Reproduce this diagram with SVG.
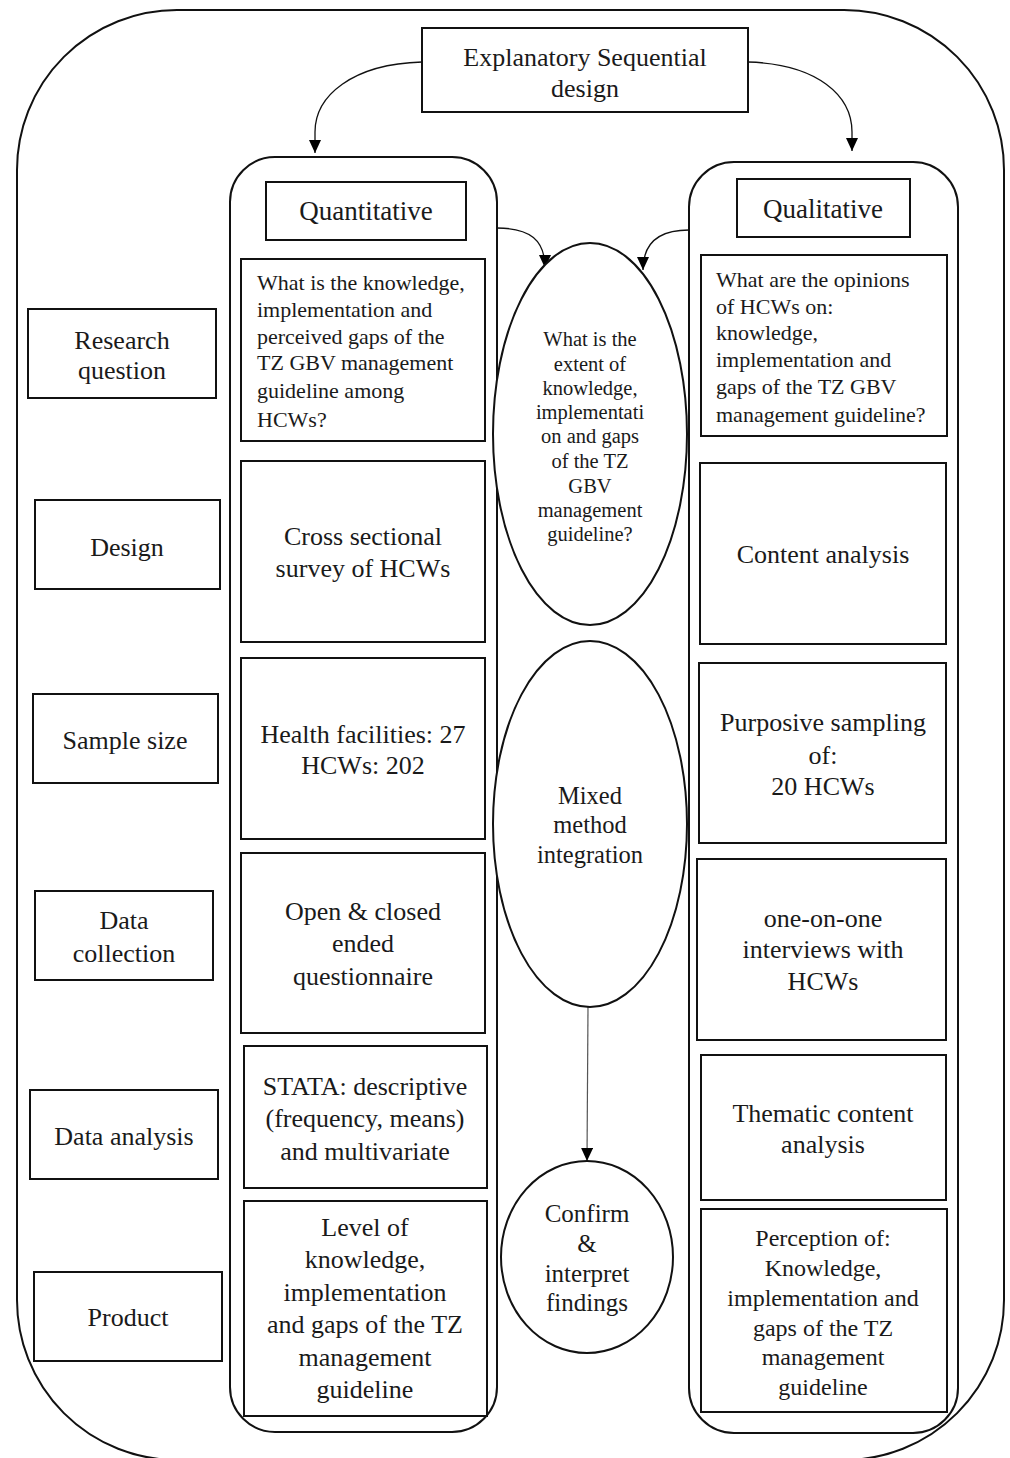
<svg xmlns="http://www.w3.org/2000/svg" width="1010" height="1458" viewBox="0 0 1010 1458">
<defs>
<marker id="arr" markerUnits="userSpaceOnUse" markerWidth="14" markerHeight="12" refX="13" refY="6" orient="auto">
<path d="M0,0 L13,6 L0,12 z" fill="#000"/>
</marker>
<style>
.box{fill:#fff;stroke:#111;stroke-width:2}
.frame{fill:none;stroke:#111;stroke-width:2}
.ell{fill:#fff;stroke:#111;stroke-width:2}
.conn{fill:none;stroke:#111;stroke-width:1.3}
.thin{fill:none;stroke:#555;stroke-width:1.2}
text{font-family:"Liberation Serif","Times New Roman",serif;fill:#1a1a1a}
.c{text-anchor:middle;font-size:26px}
.q{font-size:22px}
.e{text-anchor:middle;font-size:20.5px}
</style>
</defs>
<rect fill="#fff" x="0" y="0" width="1010" height="1458"/>
<g id="outer"><rect class="frame" x="17" y="10" width="987" height="1450" rx="160" ry="160"/></g>
<g id="quant-column"><rect class="frame" x="230" y="157" width="267" height="1275" rx="45" ry="45"/></g>
<g id="qual-column"><rect class="frame" x="689" y="162" width="269" height="1271" rx="45" ry="45"/></g>

<g id="top">
<rect class="box" x="422" y="28" width="326" height="84"/>
<text class="c" x="585" y="66">Explanatory Sequential</text>
<text class="c" x="585" y="97">design</text>
</g>

<g id="connectors">
<path class="conn" d="M422,62 C352,64 315,96 315,132 L315,153" marker-end="url(#arr)"/>
<path class="conn" d="M748,62 C818,64 852,96 852,132 L852,151" marker-end="url(#arr)"/>
<path class="conn" d="M497,228 C530,228 545,240 545,268" marker-end="url(#arr)"/>
<path class="conn" d="M689,230 C660,230 643,242 643,270" marker-end="url(#arr)"/>
<path class="thin" d="M588,1007 L587,1161" marker-end="url(#arr)"/>
</g>

<g id="quant-header">
<rect class="box" x="266" y="182" width="200" height="58"/>
<text class="c" x="366" y="220" style="font-size:27px">Quantitative</text>
</g>
<g id="qual-header">
<rect class="box" x="737" y="179" width="173" height="58"/>
<text class="c" x="823" y="218" style="font-size:27px">Qualitative</text>
</g>

<g id="label-research-question">
<rect class="box" x="28" y="309" width="188" height="89"/>
<text class="c" x="122" y="349">Research</text>
<text class="c" x="122" y="379">question</text>
</g>
<g id="label-design">
<rect class="box" x="35" y="500" width="185" height="89"/>
<text class="c" x="127" y="556">Design</text>
</g>
<g id="label-sample-size">
<rect class="box" x="33" y="694" width="185" height="89"/>
<text class="c" x="125" y="749">Sample size</text>
</g>
<g id="label-data-collection">
<rect class="box" x="35" y="891" width="178" height="89"/>
<text class="c" x="124" y="929">Data</text>
<text class="c" x="124" y="962">collection</text>
</g>
<g id="label-data-analysis">
<rect class="box" x="30" y="1090" width="188" height="89"/>
<text class="c" x="124" y="1145">Data analysis</text>
</g>
<g id="label-product">
<rect class="box" x="34" y="1272" width="188" height="89"/>
<text class="c" x="128" y="1326">Product</text>
</g>

<g id="quant-rq">
<rect class="box" x="241" y="259" width="244" height="182"/>
<text class="q" x="257" y="290">What is the knowledge,</text>
<text class="q" x="257" y="317">implementation and</text>
<text class="q" x="257" y="344">perceived gaps of the</text>
<text class="q" x="257" y="370">TZ GBV management</text>
<text class="q" x="257" y="398">guideline among</text>
<text class="q" x="257" y="427">HCWs?</text>
</g>
<g id="quant-design">
<rect class="box" x="241" y="461" width="244" height="181"/>
<text class="c" x="363" y="545">Cross sectional</text>
<text class="c" x="363" y="577">survey of HCWs</text>
</g>
<g id="quant-sample">
<rect class="box" x="241" y="658" width="244" height="181"/>
<text class="c" x="363" y="743">Health facilities: 27</text>
<text class="c" x="363" y="774">HCWs: 202</text>
</g>
<g id="quant-collection">
<rect class="box" x="241" y="853" width="244" height="180"/>
<text class="c" x="363" y="920">Open &amp; closed</text>
<text class="c" x="363" y="952">ended</text>
<text class="c" x="363" y="985">questionnaire</text>
</g>
<g id="quant-analysis">
<rect class="box" x="244" y="1046" width="243" height="142"/>
<text class="c" x="365" y="1095">STATA: descriptive</text>
<text class="c" x="365" y="1127">(frequency, means)</text>
<text class="c" x="365" y="1160">and multivariate</text>
</g>
<g id="quant-product">
<rect class="box" x="244" y="1201" width="243" height="215"/>
<text class="c" x="365" y="1236">Level of</text>
<text class="c" x="365" y="1268">knowledge,</text>
<text class="c" x="365" y="1301">implementation</text>
<text class="c" x="365" y="1333">and gaps of the TZ</text>
<text class="c" x="365" y="1366">management</text>
<text class="c" x="365" y="1398">guideline</text>
</g>

<g id="qual-rq">
<rect class="box" x="701" y="255" width="246" height="181"/>
<text class="q" x="716" y="287">What are the opinions</text>
<text class="q" x="716" y="314">of HCWs on:</text>
<text class="q" x="716" y="340">knowledge,</text>
<text class="q" x="716" y="367">implementation and</text>
<text class="q" x="716" y="394">gaps of the TZ GBV</text>
<text class="q" x="716" y="422">management guideline?</text>
</g>
<g id="qual-design">
<rect class="box" x="700" y="463" width="246" height="181"/>
<text class="c" x="823" y="563">Content analysis</text>
</g>
<g id="qual-sample">
<rect class="box" x="699" y="663" width="247" height="180"/>
<text class="c" x="823" y="731">Purposive sampling</text>
<text class="c" x="823" y="764">of:</text>
<text class="c" x="823" y="795">20 HCWs</text>
</g>
<g id="qual-collection">
<rect class="box" x="697" y="859" width="249" height="181"/>
<text class="c" x="823" y="927">one-on-one</text>
<text class="c" x="823" y="958">interviews with</text>
<text class="c" x="823" y="990">HCWs</text>
</g>
<g id="qual-analysis">
<rect class="box" x="701" y="1055" width="245" height="145"/>
<text class="c" x="823" y="1122">Thematic content</text>
<text class="c" x="823" y="1153">analysis</text>
</g>
<g id="qual-product">
<rect class="box" x="701" y="1209" width="246" height="203"/>
<text class="c" x="823" y="1246" style="font-size:24px">Perception of:</text>
<text class="c" x="823" y="1276" style="font-size:24px">Knowledge,</text>
<text class="c" x="823" y="1306" style="font-size:24px">implementation and</text>
<text class="c" x="823" y="1336" style="font-size:24px">gaps of the TZ</text>
<text class="c" x="823" y="1365" style="font-size:24px">management</text>
<text class="c" x="823" y="1395" style="font-size:24px">guideline</text>
</g>

<g id="ellipse-question">
<ellipse class="ell" cx="590" cy="434" rx="97" ry="191"/>
<text class="e" x="590" y="346">What is the</text>
<text class="e" x="590" y="371">extent of</text>
<text class="e" x="590" y="395">knowledge,</text>
<text class="e" x="590" y="419">implementati</text>
<text class="e" x="590" y="443">on and gaps</text>
<text class="e" x="590" y="468">of the TZ</text>
<text class="e" x="590" y="493">GBV</text>
<text class="e" x="590" y="517">management</text>
<text class="e" x="590" y="541">guideline?</text>
</g>
<g id="ellipse-integration">
<ellipse class="ell" cx="590" cy="824" rx="97" ry="183"/>
<text class="c" x="590" y="804" style="font-size:24.5px">Mixed</text>
<text class="c" x="590" y="833" style="font-size:24.5px">method</text>
<text class="c" x="590" y="863" style="font-size:24.5px">integration</text>
</g>
<g id="circle-confirm">
<ellipse class="ell" cx="587" cy="1257" rx="86" ry="96"/>
<text class="c" x="587" y="1222" style="font-size:25px">Confirm</text>
<text class="c" x="587" y="1252" style="font-size:25px">&amp;</text>
<text class="c" x="587" y="1282" style="font-size:25px">interpret</text>
<text class="c" x="587" y="1311" style="font-size:25px">findings</text>
</g>
</svg>
